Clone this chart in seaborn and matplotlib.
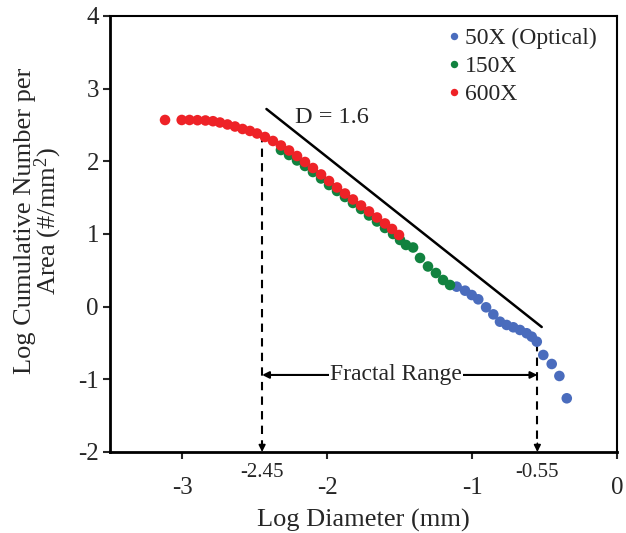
import matplotlib
matplotlib.use("Agg")
import matplotlib.pyplot as plt
import pandas as pd
import seaborn as sns

# ---------------- data ----------------
series_labels = ["50X (Optical)", "150X", "600X"]
series_colors = ["#4A6CBD", "#11823F", "#EE2227"]

x_50x = [-1.107, -1.049, -1.003, -0.958, -0.904, -0.854, -0.808, -0.762, -0.716,
         -0.670, -0.624, -0.589, -0.554, -0.509, -0.451, -0.398, -0.347]
y_50x = [0.275, 0.220, 0.160, 0.101, -0.009, -0.106, -0.207, -0.252, -0.284,
         -0.321, -0.366, -0.413, -0.482, -0.665, -0.789, -0.954, -1.261]

x_150x = [-2.320, -2.264, -2.209, -2.154, -2.099, -2.043, -1.988, -1.933, -1.878,
          -1.823, -1.767, -1.712, -1.657, -1.602, -1.546, -1.498, -1.457, -1.408,
          -1.360, -1.305, -1.250, -1.201, -1.153]
y_150x = [2.156, 2.087, 2.012, 1.936, 1.853, 1.764, 1.674, 1.592, 1.509,
          1.427, 1.344, 1.255, 1.172, 1.083, 1.000, 0.918, 0.849, 0.814,
          0.670, 0.553, 0.463, 0.367, 0.298]

x_600x = [-3.120, -3.005, -2.951, -2.896, -2.841, -2.789, -2.741, -2.689, -2.637,
          -2.585, -2.534, -2.485, -2.430, -2.375, -2.320, -2.264, -2.209, -2.154,
          -2.099, -2.043, -1.988, -1.933, -1.878, -1.823, -1.767, -1.712, -1.657,
          -1.602, -1.553, -1.505]
y_600x = [2.569, 2.569, 2.569, 2.566, 2.562, 2.552, 2.534, 2.507, 2.479,
          2.445, 2.418, 2.383, 2.335, 2.280, 2.218, 2.149, 2.073, 1.991,
          1.908, 1.819, 1.729, 1.640, 1.557, 1.475, 1.392, 1.310, 1.227,
          1.145, 1.069, 0.986]

fit_x = [-2.42, -0.52]
fit_y = [2.72, -0.28]
fit_label = "D = 1.6"

fractal_bounds = [-2.45, -0.55]
fractal_tops = [2.37, -0.50]
fractal_label = "Fractal Range"

x_major_ticks = [-3, -2, -1, 0]
x_major_labels = ["-3", "-2", "-1", "0"]
x_minor_ticks = [-2.45, -0.55]
x_minor_labels = ["-2.45", "-0.55"]
y_ticks = [-2, -1, 0, 1, 2, 3, 4]
y_tick_labels = ["-2", "-1", "0", "1", "2", "3", "4"]

x_label = "Log Diameter (mm)"
y_label = "Log Cumulative Number per\nArea (#/mm$\\mathregular{^2}$)"

# ---------------- build frame ----------------
df = pd.concat([
    pd.DataFrame({"x": x_50x, "y": y_50x, "Mag": series_labels[0]}),
    pd.DataFrame({"x": x_150x, "y": y_150x, "Mag": series_labels[1]}),
    pd.DataFrame({"x": x_600x, "y": y_600x, "Mag": series_labels[2]}),
], ignore_index=True)

sns.set_style("ticks")
plt.rcParams["font.family"] = ["Liberation Serif", "DejaVu Serif"]
plt.rcParams["mathtext.fontset"] = "custom"
plt.rcParams["mathtext.rm"] = "Liberation Serif"

fig = plt.figure(figsize=(6.26, 5.33), dpi=100)
ax = fig.add_axes([0.1757, 0.152, 0.81, 0.818])

sns.scatterplot(data=df, x="x", y="y", hue="Mag", hue_order=series_labels,
                palette=series_colors, s=58, linewidth=0, ax=ax, zorder=3)

# fit line
ax.plot(fit_x, fit_y, color="black", lw=1.8, zorder=2)
ax.text(-2.22, 2.6, fit_label, fontsize=17.5, ha="left", va="center")

# dashed vertical markers with arrow heads
for xb, yt in zip(fractal_bounds, fractal_tops):
    ax.plot([xb, xb], [yt, -1.9], color="black", lw=1.5, ls=(0, (4, 3)), zorder=2)
    ax.annotate("", xy=(xb, -2.0), xytext=(xb, -1.88),
                arrowprops=dict(arrowstyle="-|>", color="black", lw=1.2,
                                mutation_scale=10, shrinkA=0, shrinkB=0))

# horizontal double arrow with label
ax.annotate("", xy=(fractal_bounds[0], -0.94), xytext=(fractal_bounds[1], -0.94),
            arrowprops=dict(arrowstyle="<|-|>", color="black", lw=1.5,
                            mutation_scale=10, shrinkA=0, shrinkB=0), zorder=2)
ax.text(sum(fractal_bounds) / 2 - 0.025, -0.94, fractal_label, fontsize=17,
        ha="center", va="center", zorder=4,
        bbox=dict(facecolor="white", edgecolor="none", pad=1))

# axes
ax.set_xlim(-3.5, 0)
ax.set_ylim(-2, 4)
ax.set_xticks(x_major_ticks)
ax.set_xticklabels(x_major_labels, fontsize=18)
ax.set_xticks(x_minor_ticks, minor=True)
ax.set_xticklabels(x_minor_labels, minor=True, fontsize=15)
ax.tick_params(axis="x", which="major", direction="out", length=5, width=1.5, pad=13)
ax.tick_params(axis="x", which="minor", length=0, pad=8)
ax.set_yticks(y_ticks)
ax.set_yticklabels(y_tick_labels, fontsize=18)
ax.tick_params(axis="y", direction="out", length=5, width=1.5, pad=3)

ax.set_xlabel(x_label, fontsize=19, labelpad=7)
ax.set_ylabel(y_label, fontsize=19, linespacing=0.85)
ax.yaxis.set_label_coords(-0.09, 0.53)

for side in ["top", "right"]:
    ax.spines[side].set_visible(True)
    ax.spines[side].set_linewidth(1.5)
    ax.spines[side].set_color("black")
for side in ["left", "bottom"]:
    ax.spines[side].set_linewidth(2.0)
    ax.spines[side].set_color("black")

leg = ax.legend(loc="upper right", bbox_to_anchor=(0.978, 0.995), frameon=False,
                fontsize=17, markerscale=0.7, handletextpad=0.0,
                labelspacing=0.28, borderaxespad=0.0, handlelength=0.9)

fig.savefig("out.png", dpi=100)
